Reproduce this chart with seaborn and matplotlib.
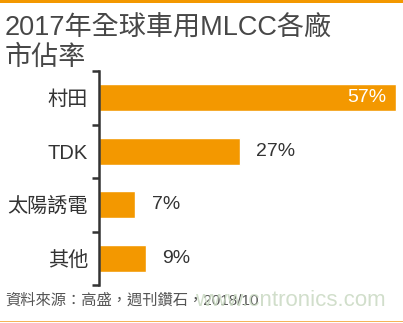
import matplotlib
matplotlib.use("Agg")
import matplotlib.pyplot as plt
import matplotlib.patches as mpatches
import seaborn as sns
import pandas as pd

companies = ["村田", "TDK", "太陽誘電", "其他"]
shares = [57, 27, 7, 9]
share_labels = ["57%", "27%", "7%", "9%"]
title_line1 = "2017年全球車用MLCC各廠"
title_line2 = "市佔率"
source_text = "資料來源：高盛，週刊鑽石，2018/10"
watermark = "www.cntronics.com"

sns.set_theme(style="white")
FONT = ["Liberation Sans", "Noto Sans CJK TC", "DejaVu Sans"]
plt.rcParams["font.family"] = FONT

W, H = 403, 323
fig = plt.figure(figsize=(W / 100, H / 100), dpi=100)
fig.patch.set_facecolor("white")

ORANGE = "#F39800"
DARK = "#333333"

left_px, right_px, top_px, bot_px = 99, 403, 71, 285
ax = fig.add_axes([left_px / W, 1 - bot_px / H, (right_px - left_px) / W, (bot_px - top_px) / H])

df = pd.DataFrame({"company": companies, "share": shares})
sns.barplot(data=df, y="company", x="share", orient="h", color=ORANGE,
            width=0.51, saturation=1, ax=ax)

px_per_unit = 5.21
ax.set_xlim(0, (right_px - left_px) / px_per_unit)
ax.set_ylim(3.5, -0.5)
ax.set_xlabel("")
ax.set_ylabel("")
ax.set_xticks([])

for s in ["top", "right", "bottom"]:
    ax.spines[s].set_visible(False)
ax.spines["left"].set_color(DARK)
ax.spines["left"].set_linewidth(1.8)

ax.set_yticks(range(len(companies)))
ax.set_yticklabels(companies, fontsize=14.5, color=DARK)
ax.tick_params(axis="y", which="major", length=0, pad=8)
ax.set_yticks([-0.5, 0.5, 1.5, 2.5, 3.5], minor=True)
ax.tick_params(axis="y", which="minor", length=5, width=1.8, color=DARK, left=True)

for i, (v, lab) in enumerate(zip(shares, share_labels)):
    if i == 0:
        ax.text(v - 1.9, i, lab, ha="right", va="center", fontsize=14,
                color="white")
    else:
        ax.text(v + 3.1, i, lab, ha="left", va="center", fontsize=14,
                color=DARK)

fig.text(5 / W, 1 - 36 / H, title_line1, fontsize=19.5, color="#474747",
         ha="left", va="baseline")
fig.text(5 / W, 1 - 65 / H, title_line2, fontsize=19.5, color="#474747",
         ha="left", va="baseline")

fig.text(5 / W, 1 - 301 / H, source_text, fontsize=11, color="#555555",
         ha="left", va="center")
fig.text(386 / W, 1 - 301 / H, watermark, fontsize=16, color="#c9d9c2",
         ha="right", va="center", alpha=0.85)

fig.add_artist(mpatches.Rectangle((0, 1 - 3 / H), 1, 3 / H, transform=fig.transFigure,
                                  color=ORANGE, lw=0))
fig.add_artist(mpatches.Rectangle((0, 1 - 322 / H), 1, 1.5 / H, transform=fig.transFigure,
                                  color="#F5B45A", lw=0))

fig.savefig("out.png", dpi=100, facecolor="white")
